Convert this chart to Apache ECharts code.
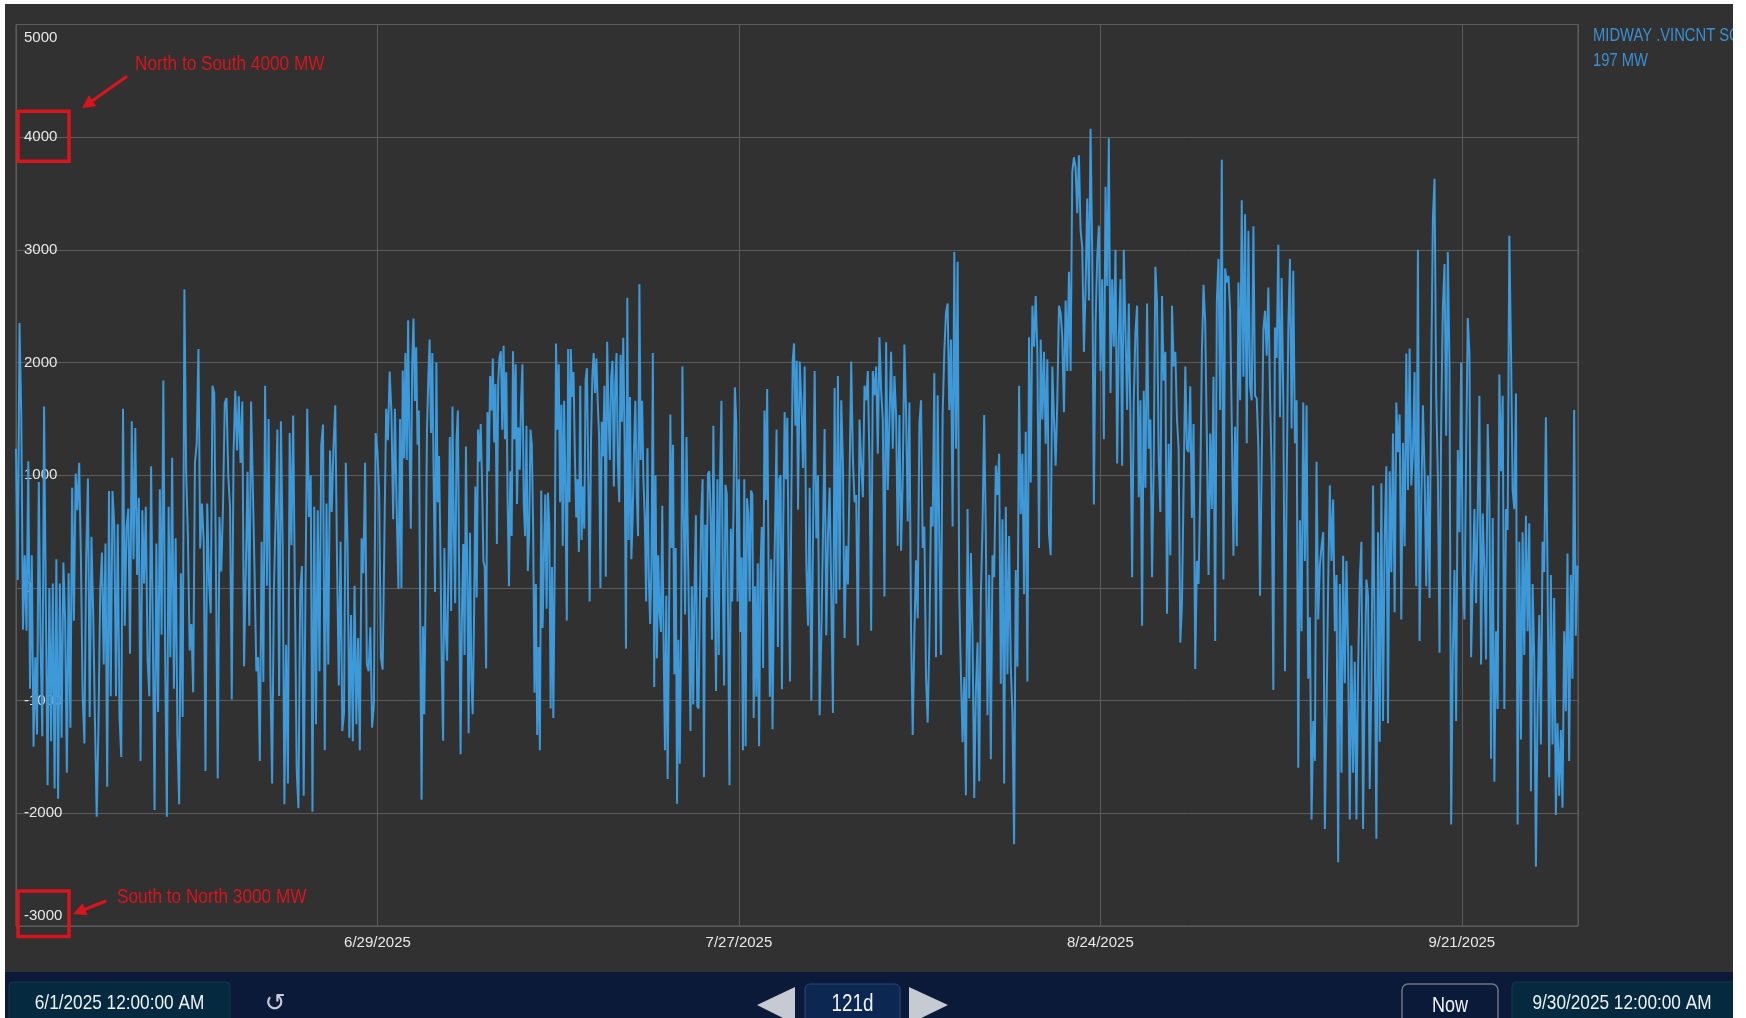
<!DOCTYPE html>
<html><head><meta charset="utf-8">
<script src="https://cdn.jsdelivr.net/npm/echarts@6/dist/echarts.min.js"></script>
<style>
html,body{margin:0;padding:0;background:#ffffff;width:1746px;height:1018px;overflow:hidden;}
#panel{position:absolute;left:5px;top:4px;width:1728px;height:1014px;}
</style></head><body><div id="panel"></div>
<script>
// ---------- data (MW) ----------
const seriesName = 'MIDWAY .VINCNT SC';
const currentValue = '197 MW';
const rangeStart = '6/1/2025 12:00:00 AM';
const rangeEnd = '9/30/2025 12:00:00 AM';
const rangeSpan = '121d';
const totalHours = 2904;           // 6/1/2025 00:00 -> 9/30/2025 00:00
const xTickHours = 672;            // 28 days
const yMin = -3000, yMax = 5000, yStep = 1000;
const noteTop = 'North to South 4000 MW';
const noteBottom = 'South to North 3000 MW';

// segment spans in hours since 6/1/2025 00:00
const sectionSpans = [[0, 711], [714, 1454], [1457, 2177], [2180, 2903]];

const juneMW = [1235,70,2350,1530,-370,290,-380,1125,-895,290,-1410,-615,-1300,940,-490,-1315,1610,-150,-1750,0,-1360,40,-1780,255,-1870,40,-1330,225,-275,-1640,130,-1240,890,-290,1015,690,1110,270,-960,-1380,255,970,-1145,455,-225,-1175,-2030,-1240,-25,315,-680,395,-1765,860,-960,860,565,-960,565,-1145,-1500,1590,-335,535,705,-585,1480,255,1420,115,800,-1535,690,40,720,-630,-960,1080,-400,-1970,395,-1100,875,-415,1840,-555,-2030,720,-615,1155,-895,440,-1300,-1920,130,-1145,2650,1030,440,-555,-320,-925,1110,1280,2120,350,750,410,-1625,750,70,-225,1795,1730,130,-1690,630,145,720,1640,1685,1000,720,-990,1190,1750,1220,1700,1110,1655,-695,-695,1030,-335,1655,1670,130,-740,-615,-1535,410,-835,1795,20,1500,-770,-1735,-25,630,1405,-960,1480,380,-1920,-505,-1735,1375,380,1530,-55,-1610,-1955,-25,195,-1845,-55,1590,630,1000,-1985,720,-1210,690,-740,1265,1450,-1440,750,-680,1220,675,1265,1620,240,-865,410,-1270,-1110,1110,365,-1330,-240,-1360,20,-1210,-445,-1440,440,130,1110,-680,-740,-350,-1240,-1035,1375,1220,845,-615,-725,440,1590,1310,1920,1560,610,1590,690,-10];

const julyMW = [1500,0,1930,1150,2085,1135,2375,1305,525,1985,2390,1660,2135,1270,1575,-320,-1880,-340,-1120,-50,1390,1850,2205,1375,2085,965,-35,2000,760,1170,355,-680,-1355,355,-390,-645,185,1340,-205,1610,525,-135,1320,1575,15,-1475,-255,390,-595,1255,85,-1290,490,-795,-1120,-305,900,-85,1405,1120,1455,930,235,185,-715,1560,1035,1880,1575,2035,1290,1810,390,1830,2050,2100,1405,2150,1320,1915,780,15,1035,460,2100,1320,1985,745,1425,1050,1660,1985,745,460,1440,150,490,1405,1270,510,-930,35,-1305,-525,-1440,865,-355,290,830,-185,845,560,-1070,185,-1155,185,2170,1405,1985,760,1625,375,1660,865,-290,2120,760,2120,1695,1915,1185,625,965,320,1795,425,900,525,1850,1950,965,-120,1305,1880,2085,1730,2035,1645,1355,0,1475,1170,1795,100,2185,1575,1135,1865,2015,900,1810,2085,1100,760,2070,1475,2220,1305,-540,2575,425,1695,255,625,1255,1660,830,460,2695,1135,1660,965,625,-120,1240,85,-320,220,2085,-880,1000,-625,290,-220,-390,730,-490,-1440,-70,-1695,-390,1540,355,1270,-765,355,-1915,-460,-1560,-425,1965,625,-235,1340,1340,-425,-1270,15,-1035,0,645,-1050,-1070,-85,660,965,-1680,560,-85,1015,1035,625,-460,1440,85,-915,965,-595,980,1660,120,-865,915,830,-340,-1750,525,-120,745,1780,1475,-120,965,-390,270,-1440,965,-1405,795,660,-120,865,830,-1155,15,-965,220,-1405,150,540,-710,1575,780,1765,255,-965,255,-1255,-50,595,1405,-525,965,1000,-900,560,1560,965,1510,205,-830,830,2015,2170,1440,2015,695];

const augustMW = [2010,1665,1065,1965,200,-335,890,-1000,420,1925,440,1000,-1130,-420,460,1410,-420,460,890,-55,-1110,1775,-140,1880,-15,1665,1105,-445,375,30,975,2010,1150,760,825,-510,1495,1105,805,1795,1665,1925,1105,-380,1925,1710,1965,1190,2225,1750,1495,-75,2180,870,1495,2095,1235,1880,1535,375,1535,330,975,2160,1580,590,1645,-380,-1305,-420,245,-270,1450,1665,355,545,-790,-1195,-485,720,545,1905,-615,1710,460,-595,1535,2095,2440,2525,1580,2205,545,2980,1235,2895,-55,-765,-1370,-790,-1840,700,-980,310,-420,-1865,-915,-485,-1715,-55,545,1535,460,-1130,115,-1520,290,95,1085,825,1190,-850,610,-1735,720,-765,460,-700,-1110,-2275,160,-700,1795,655,1190,-55,1385,-830,2225,935,2505,2140,2590,2075,355,2205,1495,2095,1280,2030,480,290,1965,1495,1085,1665,2505,2440,2225,1560,2550,1925,2805,1925,3690,3820,3730,3325,3840,3175,3020,2095,2655,3455,2550,4075,2960,740,2335,2935,3215,1925,2740,1320,3560,2680,3990,1730,2740,2140,3000,1105,2225,2740,1085,3000,2290,1580,2525,1495,95,1665,2270,2505,805,1665,-335,1750,890,2525,1235,1495,95,1105,2850,2525,1150,675,2590,1840,2095,-230,1280,290,2505,1965,2095,1495,1235,-485,-140,910,1965,1235];

const septemberMW = [1205,1790,620,1455,-720,240,35,870,2080,2690,2355,1330,115,1370,700,1875,-470,2540,2920,1580,3800,75,2835,2710,2770,2460,1455,285,1430,370,2710,1665,3440,1875,3315,1285,3170,1790,1665,3210,1705,1685,1245,-70,1080,2290,2460,2060,2665,1705,1055,-905,2310,2040,3045,1515,2750,1665,-740,870,2290,2920,1415,2815,1285,1665,-1595,600,-385,1645,240,1620,-805,-260,-2055,-1180,-1535,1120,-280,200,370,495,-2140,-1115,35,910,240,785,-385,115,-2435,35,-1640,285,-845,240,-550,-2055,-510,-1640,-655,-2055,-720,75,410,-2140,-805,75,-70,-1785,-845,910,-385,-2225,495,-1365,930,-1180,450,1080,-1200,1035,140,1370,-215,1645,1205,1540,-280,1285,370,2080,870,2125,910,1205,1915,15,3000,-470,725,1620,1035,15,995,-90,1895,3275,3630,1705,995,-575,1475,2480,2875,1350,2980,1955,-2100,-595,160,-1180,1225,495,2000,115,-280,1185,2395,2080,-615,55,700,-135,700,1705,-680,660,160,-635,1455,785,-1515,620,-1720,-385,-1075,1895,1035,1705,-1075,700,515,3125,2125,870,700,1725,-2100,410,-1345,495,-595,640,-385,575,-1805,35,-635,-2475,-1055,-240,-1390,410,140,1515,115,-1680,115,-1390,-90,-2015,-1200,-1845,-1260,-1950,-385,-1095,305,-1535,115,-805,1580,-425,200];

// ---------- build series points ----------
const sections = [juneMW, julyMW, augustMW, septemberMW];
const points = [];
sections.forEach((arr, k) => {
  const [h0, h1] = sectionSpans[k];
  const step = (h1 - h0) / (arr.length - 1);
  arr.forEach((v, i) => points.push([h0 + i * step, v]));
});

const SANS = '"Liberation Sans",Arial,sans-serif';
const NARROW_SCALE = 0.82;   // emulate the condensed face of the original
const RED = '#d8141c';
const LABEL = '#e8e8e8';
const GRIDC = '#5c5c5c';

function dateLabel(h) {
  const d = new Date(2025, 5, 1 + Math.round(h / 24));
  return (d.getMonth() + 1) + '/' + d.getDate() + '/' + d.getFullYear();
}

const chart = echarts.init(document.getElementById('panel'), null, {renderer: 'canvas'});
chart.setOption({
  animation: false,
  backgroundColor: '#313131',
  grid: {left: 11, right: 155, top: 20.5, bottom: 92, show: true, borderColor: '#626262', borderWidth: 1, backgroundColor: 'transparent'},
  xAxis: {
    type: 'value', min: 0, max: totalHours, interval: xTickHours,
    axisLine: {show: false}, axisTick: {show: false},
    splitLine: {show: true, lineStyle: {color: GRIDC, width: 1}},
    axisLabel: {
      showMinLabel: false, showMaxLabel: false, margin: 9,
      color: LABEL, fontSize: 15, fontFamily: SANS,
      formatter: v => (v > 0 && v % xTickHours === 0) ? dateLabel(v) : ''
    }
  },
  yAxis: {
    type: 'value', min: yMin, max: yMax, interval: yStep,
    axisLine: {show: false}, axisTick: {show: false},
    splitLine: {show: true, lineStyle: {color: GRIDC, width: 1}},
    axisLabel: {
      inside: true, margin: 8, color: LABEL, fontSize: 15, fontFamily: SANS,
      formatter: v => v === yMax ? '{t|' + v + '}' : (v === yMin ? '{b|' + v + '}' : String(v)),
      rich: {
        t: {padding: [27, 0, 0, 0], color: LABEL, fontSize: 15, fontFamily: SANS},
        b: {padding: [0, 0, 20, 0], color: LABEL, fontSize: 15, fontFamily: SANS}
      }
    }
  },
  series: [{
    name: seriesName, type: 'line', data: points, showSymbol: false, symbol: 'none',
    lineStyle: {color: '#3d99d8', width: 2}, clip: true, z: 3
  }]
});

// ---------- decorations ----------
function arrow(tail, tip, color) {
  const dx = tip[0] - tail[0], dy = tip[1] - tail[1];
  const len = Math.hypot(dx, dy), ux = dx / len, uy = dy / len;
  const L = 13, W = 6.5;
  const bx = tip[0] - ux * L, by = tip[1] - uy * L;
  return [
    {type: 'line', shape: {x1: tail[0], y1: tail[1], x2: bx + ux * 2, y2: by + uy * 2}, style: {stroke: color, lineWidth: 3.2}, z: 10},
    {type: 'polygon', shape: {points: [tip, [bx - uy * W, by + ux * W], [bx + uy * W, by - ux * W]]}, style: {fill: color}, z: 10}
  ];
}
const p4 = chart.convertToPixel({gridIndex: 0}, [0, 4000]);
const pm3 = chart.convertToPixel({gridIndex: 0}, [0, -3000]);
const gx = p4[0];

// text drawn in a horizontally condensed face
const txt = (text, x, y, size, fill, align) => ({
  type: 'text', z: 20, x, y, scaleX: NARROW_SCALE, scaleY: 1,
  style: {text, x: 0, y: 0, fill, fontSize: size, fontFamily: SANS, align: align || 'left', verticalAlign: 'middle'}
});

const W = 1728;
const graphics = [
  // red annotations
  {type: 'rect', z: 10, shape: {x: gx + 2, y: p4[1] - 26, width: 51, height: 50}, style: {fill: 'none', stroke: RED, lineWidth: 3.5}},
  {type: 'rect', z: 10, shape: {x: gx + 2, y: pm3[1] - 35, width: 51, height: 45.5}, style: {fill: 'none', stroke: RED, lineWidth: 3.5}},
  ...arrow([gx + 111, p4[1] - 61], [gx + 66, p4[1] - 29], RED),
  ...arrow([gx + 90, pm3[1] - 25], [gx + 57, pm3[1] - 12], RED),
  txt(noteTop, gx + 119, p4[1] - 73, 21, RED),
  txt(noteBottom, gx + 101, pm3[1] - 29, 21, RED),
  // legend
  txt(seriesName, 1588, 32, 18, '#3b8fd3'),
  txt(currentValue, 1588, 57, 18, '#3b8fd3'),
  // bottom bar
  {type: 'rect', z: 5, shape: {x: 0, y: 968, width: W, height: 50}, style: {fill: '#0a1a38'}},
  {type: 'rect', z: 6, shape: {x: 4, y: 978, width: 221, height: 46, r: 4}, style: {fill: '#05293f', stroke: '#173650', lineWidth: 1}},
  txt(rangeStart, 114.5, 999, 21, '#eef2f6', 'center'),
  {type: 'text', z: 20, style: {text: '\u21BA', x: 270, y: 1000, fill: '#c8ccd4', fontSize: 25, fontFamily: '"DejaVu Sans",sans-serif', align: 'center', verticalAlign: 'middle'}},
  {type: 'polygon', z: 6, shape: {points: [[752, 1001], [790, 983], [790, 1020]]}, style: {fill: '#c6cad2'}},
  {type: 'rect', z: 6, shape: {x: 800, y: 980, width: 95, height: 46, r: 5}, style: {fill: '#0b2752', stroke: '#2b4670', lineWidth: 1}},
  txt(rangeSpan, 847.5, 1001, 23, '#f2f4f8', 'center'),
  {type: 'polygon', z: 6, shape: {points: [[943, 1001], [904, 983], [904, 1020]]}, style: {fill: '#c6cad2'}},
  {type: 'rect', z: 6, shape: {x: 1397, y: 980, width: 96, height: 46, r: 6}, style: {fill: '#0a1a38', stroke: '#6d7584', lineWidth: 1.5}},
  txt('Now', 1445, 1002, 22, '#eef2f6', 'center'),
  {type: 'rect', z: 6, shape: {x: 1507, y: 978, width: 230, height: 46, r: 4}, style: {fill: '#05293f', stroke: '#173650', lineWidth: 1}},
  txt(rangeEnd, 1617, 999, 21, '#eef2f6', 'center')
];
chart.setOption({graphic: {elements: graphics}});
</script></body></html>
